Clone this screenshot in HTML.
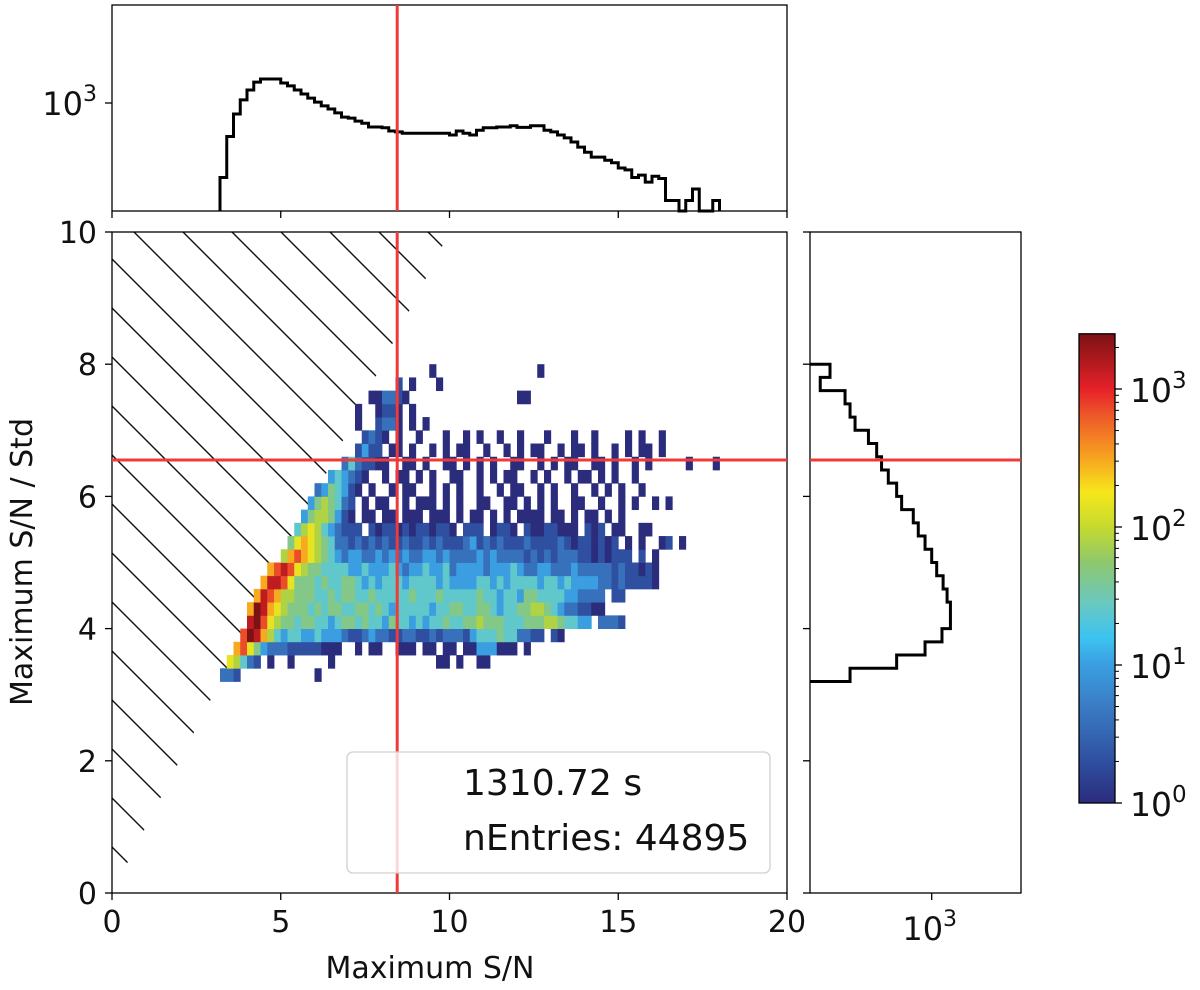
<!DOCTYPE html>
<html><head><meta charset="utf-8"><style>
html,body{margin:0;padding:0;background:#fff;}
svg{display:block;font-family:"DejaVu Sans","Liberation Sans",sans-serif;}
</style></head>
<body>
<svg id="fig" width="1200" height="990" viewBox="0 0 1200 990" xmlns="http://www.w3.org/2000/svg">
<defs>
<clipPath id="mainclip"><rect x="112" y="232" width="675" height="661"/></clipPath>
<clipPath id="hatchclip"><polygon points="112,893 112,232 449.5,232"/></clipPath>
<linearGradient id="cbgrad" x1="0" y1="1" x2="0" y2="0"></linearGradient>
</defs>
<g id="hatch" clip-path="url(#hatchclip)"></g>
<g id="heat" clip-path="url(#mainclip)"></g>
<g id="overlay"></g>
</svg>
<script>
// ---- data ----
const heatX0 = 3.0;
const heatY0 = 3.2;
const heatBin = 0.2;
const heatRows = [
".332...........1",
"..87532.1..1.....1...............11.1..11",
"...9A86433322222111..1.11..111.11.11.11444111.1",
"....ACB975455445444322343322332232333245556553322 21",
".....BCA876656655456656554655454556556676665556667765544 3332",
".....9CB98766656566556656545555545566556654556677654332211",
"......9BA9776665565665565555565556555556554554665555443333 22",
".......9BBA8666565566545455545555454444554545555455454444332322221",
"........9ABA876655554454445434454453444434445433443334333332322121",
"..........79A9876543443343434334434333343433332323233322121222.2.1",
"...........6898765332323232232232322234232322232222321221212 1.1..12.1",
"............5787543222.2122121221221.222.1221.21122111.212.11..11",
".............46776421.11.11.111.111.1.11 1.1.1111.11.1.11.1.1",
"..............4676532.1.11..1.111.1.1..11..11.1.1.1..11..1..1.1..1.1",
"...............3465421.1..1.11..1.1.1..1..1.11..1.1..1..1.1.1..1",
".................454321..1.11.1.1..11..1.1.11..1.1..1.11.1.1..1",
"...................3532211..11.1..11.1.1.1..11..1.1.11..11.1..1.1.....1...1",
".....................2422.11.1..1.1.11..1..1.1.11..1.11.1..1.1.11.1",
"......................2321.1..1...1..1.1..1..1...1...1..1....1.1..1",
".....................1..2331.1.1",
".....................1..1221.1",
".......................113321................11",
"...........................2.1...1",
"................................1...............1"
];
const levelCounts = {"1":1,"2":2,"3":4,"4":10,"5":25,"6":45,"7":80,"8":150,"9":300,"A":700,"B":1400,"C":2600};

const topBinStart = 3.2;
const topCounts = [204,490,790,1070,1320,1560,1670,1670,1670,1530,1440,1320,1210,1110,1020,940,880,810,740,725,680,650,600,600,590,550,540,
525,525,525,525,525,525,525,
505,550,525,505,560,590,590,600,600,615,595,595,615,615,560,540,505,475,435,390,350,315,315,295,280,250,240,204,215,185,210,200,
125,125,0,125,160,0,0,125];

const rightBinStart = 3.2;
const rightCounts = [181,480,870,1240,1480,1480,1380,1270,1110,1000,870,755,680,533,480,403,350,316,266,201,181,163,97,119];

const xTicks = [0,5,10,15,20];
const yTicks = [0,2,4,6,8,10];
const cbTicks = [0,1,2,3];
const cutX = 8.45, cutY = 6.55;
const legendLines = ["1310.72 s","nEntries: 44895"];

// ---- scales ----
const xS = v => 112 + v*33.75;
const yS = v => 893 - v*66.1;
const yT = c => 211 - (Math.log10(c)-2)*108;
const xR = c => 810.7 + (Math.log10(c)-1.9)*110;
const cbY = l => 803 - l*138;
const cbMax = 3.4;

const stops = [[0,"#2b2c7c"],[0.3,"#2f4fa0"],[0.7,"#3a7cc4"],[1.0,"#3a9ee0"],[1.2,"#3cc4f0"],[1.45,"#6ac8c0"],[1.75,"#8fc86c"],[2.0,"#c5da2e"],[2.25,"#f6e71c"],[2.5,"#f7a41f"],[2.8,"#ee5a29"],[3.0,"#e62129"],[3.4,"#7b1214"]];
function hex(h){return [1,3,5].map(i=>parseInt(h.substr(i,2),16));}
function cmap(l){
  if(l<=0) return stops[0][1];
  for(let i=1;i<stops.length;i++){
    if(l<=stops[i][0]){
      const a=stops[i-1],b=stops[i],t=(l-a[0])/(b[0]-a[0]);
      const ca=hex(a[1]),cb=hex(b[1]);
      return "rgb("+ca.map((v,k)=>Math.round(v+(cb[k]-v)*t)).join(",")+")";
    }
  }
  return stops[stops.length-1][1];
}

const NS="http://www.w3.org/2000/svg";
function mk(tag,attrs,parent){const e=document.createElementNS(NS,tag);for(const k in attrs)e.setAttribute(k,attrs[k]);(parent||document.getElementById('overlay')).appendChild(e);return e;}

const grad=document.getElementById('cbgrad');
stops.forEach(s=>{const st=document.createElementNS(NS,'stop');st.setAttribute('offset',(s[0]/cbMax*100)+'%');st.setAttribute('stop-color',s[1]);grad.appendChild(st);});

// hatch
const hg=document.getElementById('hatch');
for(let x0=428;x0>-750;x0-=49){
  const l=mk('line',{x1:x0,y1:232,x2:x0+700,y2:932,stroke:'#111','stroke-width':1.4},hg);
  
  
}

// heatmap
const heat=document.getElementById('heat');
heatRows.forEach((row,r)=>{
  for(let c=0;c<row.length;c++){
    const ch=row[c]; const cnt=levelCounts[ch]; if(!cnt) continue;
    const xa=xS(heatX0+heatBin*c), xb=xS(heatX0+heatBin*(c+1));
    const ya=yS(heatY0+heatBin*(r+1)), yb=yS(heatY0+heatBin*r);
    const rc=mk('rect',{x:xa,y:ya,width:xb-xa+0.4,height:yb-ya+0.4,fill:cmap(Math.log10(cnt))},heat);
    
    
  }
});

function frame(x,y,w,h,name){const f=mk('rect',{x:x,y:y,width:w,height:h,fill:'none',stroke:'#000','stroke-width':1.3});}
frame(112,5,675,206,'top-histogram-frame');
frame(112,232,675,661,'main-plot-frame');
frame(810,232,211,661,'right-histogram-frame');

let d="M"+xS(topBinStart)+","+211;
topCounts.forEach((c,i)=>{
  const y=c>0?yT(c):211;
  d+=" L"+xS(topBinStart+0.2*i)+","+y+" L"+xS(topBinStart+0.2*(i+1))+","+y;
});
d+=" L"+xS(topBinStart+0.2*topCounts.length)+",211";
const tp=mk('path',{d:d,fill:'none',stroke:'#000','stroke-width':3});



let d2="M810,"+yS(rightBinStart);
rightCounts.forEach((c,i)=>{
  const x=xR(c);
  d2+=" L"+x+","+yS(rightBinStart+0.2*i)+" L"+x+","+yS(rightBinStart+0.2*(i+1));
});
d2+=" L810,"+yS(rightBinStart+0.2*rightCounts.length);
const rp=mk('path',{d:d2,fill:'none',stroke:'#000','stroke-width':3});



[[xS(cutX),5,xS(cutX),211],[xS(cutX),232,xS(cutX),893]].forEach(p=>{
  const l=mk('line',{x1:p[0],y1:p[1],x2:p[2],y2:p[3],stroke:'#f03a3a','stroke-width':3});
  
  
});
[[112,yS(cutY),787,yS(cutY)],[810,yS(cutY),1021,yS(cutY)]].forEach(p=>{
  const l=mk('line',{x1:p[0],y1:p[1],x2:p[2],y2:p[3],stroke:'#f03a3a','stroke-width':3});
  
  
});

function txt(x,y,s,anchor,size,name){const t=mk('text',{x:x,y:y,'text-anchor':anchor,'font-size':size,fill:'#111'});t.textContent=s;return t;}
xTicks.forEach(v=>{
  const x=xS(v);
  const t1=mk('line',{x1:x,y1:893,x2:x,y2:900,stroke:'#000','stroke-width':1.3});
  
  
  const t2=mk('line',{x1:x,y1:211,x2:x,y2:218,stroke:'#000','stroke-width':1.3});
  
  
  txt(x,932,String(v),'middle',30,'x-tick-label');
});
yTicks.forEach(v=>{
  const y=yS(v);
  const t1=mk('line',{x1:105,y1:y,x2:112,y2:y,stroke:'#000','stroke-width':1.3});
  
  
  const t2=mk('line',{x1:803,y1:y,x2:810,y2:y,stroke:'#000','stroke-width':1.3});
  
  
  txt(97,y+11,String(v),'end',30,'y-tick-label');
});
const tt=mk('line',{x1:105,y1:yT(1000),x2:112,y2:yT(1000),stroke:'#000','stroke-width':1.3});


const tl=txt(97,yT(1000)+12,'10','end',32,'top-y-tick-label');
tl.innerHTML='10<tspan dy="-14" font-size="22">3</tspan>';
const rt=mk('line',{x1:xR(1000),y1:893,x2:xR(1000),y2:900,stroke:'#000','stroke-width':1.3});


const rl=txt(xR(1000)-2,940,'10','middle',32,'right-x-tick-label');
rl.innerHTML='10<tspan dy="-14" font-size="22">3</tspan>';

txt(430,978,'Maximum S/N','middle',30,'x-axis-title');
const yl=txt(0,0,'Maximum S/N / Std','middle',30,'y-axis-title');
yl.setAttribute('transform','translate(32,562) rotate(-90)');

const lg=mk('rect',{x:347,y:752,width:423,height:121,rx:6,fill:'#fff','fill-opacity':0.8,stroke:'#d0d0d0','stroke-width':1.3});


txt(463,795,legendLines[0],'start',36,'legend-duration');
txt(463,850,legendLines[1],'start',36,'legend-entries');

const cb=mk('rect',{x:1079,y:cbY(cbMax),width:36,height:cbY(0)-cbY(cbMax),fill:'url(#cbgrad)',stroke:'#000','stroke-width':1.3});


cbTicks.forEach(l=>{
  const y=cbY(l);
  const t=mk('line',{x1:1115,y1:y,x2:1122,y2:y,stroke:'#000','stroke-width':1.3});
  
  
  const lab=txt(1130,y+13,'10','start',33,'colorbar-tick-label');
  lab.innerHTML='10<tspan dy="-14" font-size="23">'+l+'</tspan>';
  for(let m=2;m<10;m++){
    const lm=l+Math.log10(m); if(lm>cbMax) break;
    const ym=cbY(lm);
    const mt=mk('line',{x1:1115,y1:ym,x2:1119,y2:ym,stroke:'#000','stroke-width':1});
    
    
  }
});
</script>
</body></html>
